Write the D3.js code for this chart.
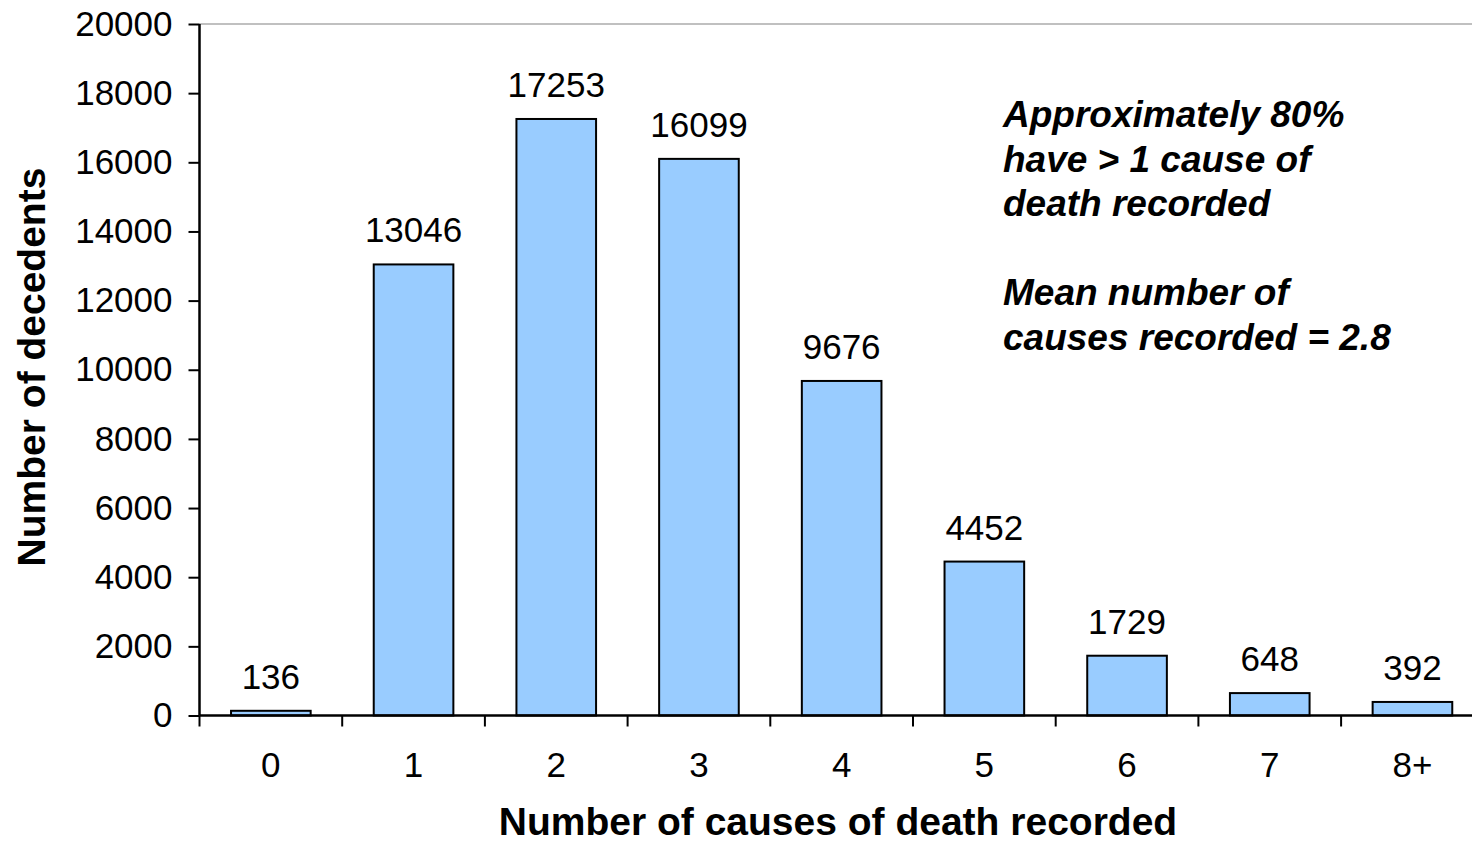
<!DOCTYPE html>
<html>
<head>
<meta charset="utf-8">
<script src="https://cdn.jsdelivr.net/npm/d3@7/dist/d3.min.js"></script>
<style>
  html, body { margin: 0; padding: 0; background: #fff; }
  svg { display: block; }
  text { font-family: "Liberation Sans", Arial, sans-serif; fill: #000; }
</style>
</head>
<body>
<svg id="chart" width="1472" height="845"></svg>
<script>
// Distribution of decedents by number of recorded causes of death
const categories = ["0", "1", "2", "3", "4", "5", "6", "7", "8+"];
const decedents = [136, 13046, 17253, 16099, 9676, 4452, 1729, 648, 392];
const yTicks = [0, 2000, 4000, 6000, 8000, 10000, 12000, 14000, 16000, 18000, 20000];
const noteLines = [
  "Approximately 80%",
  "have > 1 cause of",
  "death recorded",
  "",
  "Mean number of",
  "causes recorded = 2.8"
];

const svg = d3.select("#chart");
const plotLeft = 199.5, plotTop = 24, plotBottom = 715.5;
const bandStep = 142.7;

const x = d3.scaleBand()
  .domain(categories)
  .range([plotLeft, plotLeft + bandStep * categories.length])
  .paddingInner(0)
  .paddingOuter(0);

const y = d3.scaleLinear().domain([0, 20000]).range([plotBottom, plotTop]);

const barFrac = 0.558;

// top border of the plot area
svg.append("line")
  .attr("x1", plotLeft).attr("x2", 1472)
  .attr("y1", y(20000)).attr("y2", y(20000))
  .attr("stroke", "#c0c0c0").attr("stroke-width", 2);

// bars
svg.append("g").selectAll("rect")
  .data(decedents)
  .join("rect")
  .attr("x", (d, i) => x(categories[i]) + x.bandwidth() * (1 - barFrac) / 2)
  .attr("width", x.bandwidth() * barFrac)
  .attr("y", d => y(d))
  .attr("height", d => y(0) - y(d))
  .attr("fill", "#99ccff")
  .attr("stroke", "#000")
  .attr("stroke-width", 2);

// value labels
svg.append("g").selectAll("text")
  .data(decedents)
  .join("text")
  .attr("x", (d, i) => x(categories[i]) + x.bandwidth() / 2)
  .attr("y", d => y(d) - 22)
  .attr("text-anchor", "middle")
  .style("font-size", "35px")
  .text(d => d);

// y axis
const yAxis = svg.append("g")
  .attr("transform", `translate(${plotLeft},0)`)
  .call(d3.axisLeft(y).tickValues(yTicks).tickSize(11).tickPadding(16).tickFormat(d3.format("d")));
yAxis.select(".domain").attr("stroke", "#000").attr("stroke-width", 2.5)
  .attr("d", `M0,${plotTop}V${plotBottom}`);
yAxis.selectAll(".tick line").attr("stroke", "#000").attr("stroke-width", 2);
yAxis.selectAll(".tick text").style("font-size", "35px").style("font-family", "Liberation Sans, Arial, sans-serif").attr("fill", "#000");

// x axis: ticks sit on band boundaries
const xAxisG = svg.append("g").attr("transform", `translate(0,${plotBottom})`);
xAxisG.append("line")
  .attr("x1", plotLeft).attr("x2", 1472)
  .attr("y1", 0).attr("y2", 0)
  .attr("stroke", "#000").attr("stroke-width", 2.5);
const boundaries = categories.map(c => x(c));
xAxisG.selectAll("line.tick")
  .data(boundaries)
  .join("line")
  .attr("class", "tick")
  .attr("x1", d => d).attr("x2", d => d)
  .attr("y1", 0).attr("y2", 11)
  .attr("stroke", "#000").attr("stroke-width", 2);
xAxisG.selectAll("text")
  .data(categories)
  .join("text")
  .attr("x", d => x(d) + x.bandwidth() / 2)
  .attr("y", 61)
  .attr("text-anchor", "middle")
  .style("font-size", "35px")
  .text(d => d);

// axis titles
svg.append("text")
  .attr("x", 838).attr("y", 835)
  .attr("text-anchor", "middle")
  .style("font-size", "39px").style("font-weight", "bold")
  .text("Number of causes of death recorded");

svg.append("text")
  .attr("transform", "translate(45,367) rotate(-90)")
  .attr("text-anchor", "middle")
  .style("font-size", "39px").style("font-weight", "bold")
  .text("Number of decedents");

// annotation
const note = svg.append("text")
  .attr("x", 1003).attr("y", 127)
  .style("font-size", "37px").style("font-weight", "bold").style("font-style", "italic");
noteLines.forEach((line, i) => {
  note.append("tspan")
    .attr("x", 1003)
    .attr("y", 127 + i * 44.5)
    .text(line);
});
</script>
</body>
</html>
